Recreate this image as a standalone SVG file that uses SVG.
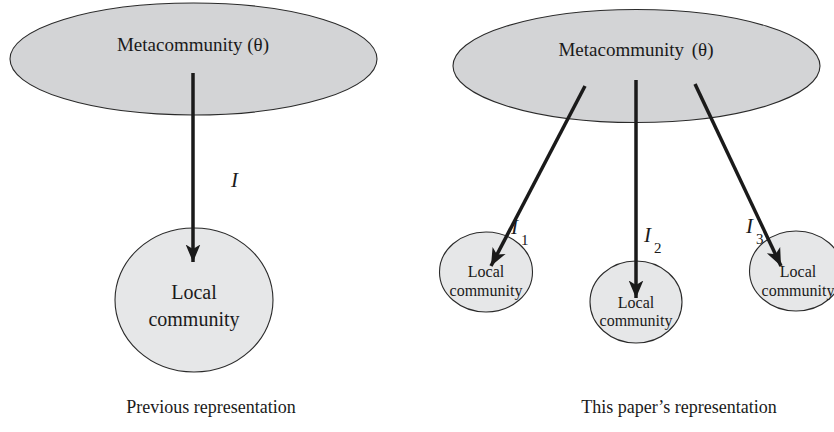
<svg xmlns="http://www.w3.org/2000/svg" width="834" height="432" viewBox="0 0 834 432">
<style>
text{font-family:"Liberation Serif","Times New Roman",serif;fill:#1a1a1a;text-anchor:middle}
.meta{fill:#d3d4d6;stroke:#2a2a2a;stroke-width:1.1}
.local{fill:#e6e7e8;stroke:#2a2a2a;stroke-width:1.1}
.arr{stroke:#1a1a1a;stroke-width:3.5;fill:none;marker-end:url(#ah)}
.t19{font-size:19px}
.t20{font-size:20px}
.t16{font-size:16px}
.cap{font-size:18px}
.lab{font-size:21px;font-style:italic;text-anchor:start}
.sub{font-size:15px;text-anchor:start}
</style>
<defs>
<marker id="ah" markerWidth="6" markerHeight="5" refX="5" refY="2.3" orient="auto" markerUnits="strokeWidth">
<path d="M0,0.2 L5,2.3 L0,4.4 L1.3,2.3 Z" fill="#1a1a1a"/>
</marker>
</defs>
<g id="meta-left">
<ellipse class="meta" cx="193.5" cy="59" rx="183.5" ry="56"/>
<text class="t19" x="193" y="51">Metacommunity (θ)</text>
</g>
<g id="local-left">
<ellipse class="local" cx="194" cy="300" rx="79" ry="72"/>
<text class="t20" x="194" y="299">Local</text>
<text class="t20" x="194" y="326">community</text>
</g>
<g id="meta-right">
<ellipse class="meta" cx="636.5" cy="66" rx="183.5" ry="56.5"/>
<text class="t19" x="636" y="56">Metacommunity <tspan dx="3">(θ)</tspan></text>
</g>
<g id="local-1">
<ellipse class="local" cx="486" cy="272" rx="46.5" ry="40"/>
<text class="t16" x="486" y="277">Local</text>
<text class="t16" x="486" y="296">community</text>
</g>
<g id="local-2">
<ellipse class="local" cx="636" cy="302" rx="46" ry="41"/>
<text class="t16" x="636" y="308">Local</text>
<text class="t16" x="636" y="326">community</text>
</g>
<g id="local-3">
<ellipse class="local" cx="796" cy="271" rx="46.5" ry="40"/>
<text class="t16" x="798" y="277">Local</text>
<text class="t16" x="798" y="296">community</text>
</g>
<g id="connectors">
<line class="arr" x1="193" y1="73" x2="193" y2="262"/>
<line class="arr" x1="585" y1="86" x2="491" y2="266"/>
<line class="arr" x1="636" y1="80" x2="636" y2="298"/>
<line class="arr" x1="695" y1="84" x2="781" y2="266"/>
</g>
<g id="labels">
<text class="lab" x="231" y="187">I</text>
<text class="lab" x="511" y="234">I</text>
<text class="sub" x="521" y="245">1</text>
<text class="lab" x="644" y="242">I</text>
<text class="sub" x="654" y="253">2</text>
<text class="lab" x="746" y="233">I</text>
<text class="sub" x="756" y="244">3</text>
<text class="cap" x="211" y="413">Previous representation</text>
<text class="cap" x="679" y="413">This paper’s representation</text>
</g>
</svg>
